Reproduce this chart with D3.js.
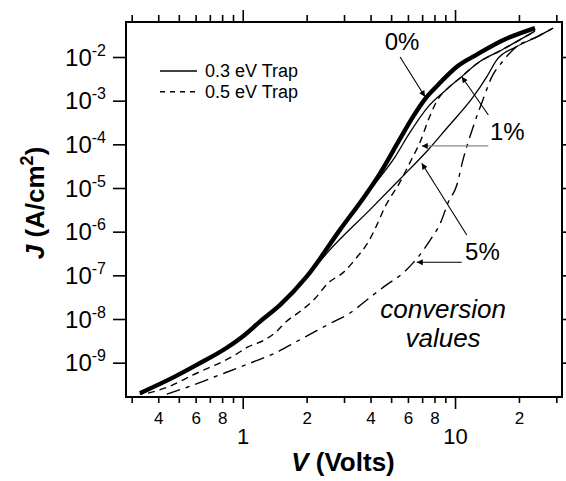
<!DOCTYPE html>
<html>
<head>
<meta charset="utf-8">
<script src="https://cdnjs.cloudflare.com/ajax/libs/d3/7.8.5/d3.min.js"></script>
<style>
  body { margin: 0; background: #fff; }
  svg { font-family: "Liberation Sans", Arial, sans-serif; }
</style>
</head>
<body>
<svg id="chart" width="566" height="481"></svg>
<script>
// J-V curves (V in volts, J in A/cm^2)

// 0% conversion (thick line)
var volts0 = [0.328, 0.471, 0.607, 0.841, 1.007, 1.205, 1.50, 2.00, 2.87, 3.84, 4.44, 5.41, 6.30, 7.22, 8.22, 10.2, 12.6, 16.9, 23.8];
var curr0 = [2.0e-10, 4.6e-10, 8.9e-10, 2.2e-9, 4.1e-9, 8.7e-9, 2.1e-8, 9.3e-8, 1.1e-6, 7.6e-6, 2.2e-5, 1.15e-4, 4.1e-4, 1.09e-3, 2.17e-3, 6.0e-3, 1.12e-2, 2.45e-2, 4.6e-2];

// 0.3 eV trap, 1%
var volts03a = [0.328, 0.471, 0.607, 0.841, 1.007, 1.205, 1.50, 2.00, 3.04, 4.15, 5.21, 6.07, 7.46, 9.06, 10.7, 12.8, 16.6, 23.8];
var curr03a = [1.9e-10, 4.4e-10, 8.6e-10, 2.1e-9, 4.0e-9, 8.5e-9, 2.0e-8, 9.0e-8, 1.67e-6, 1.17e-5, 5.1e-5, 1.73e-4, 7.2e-4, 1.75e-3, 3.5e-3, 7.3e-3, 1.45e-2, 3.9e-2];

// 0.3 eV trap, 5%
var volts03b = [0.328, 0.471, 0.607, 0.841, 1.007, 1.205, 1.50, 2.00, 2.53, 3.98, 5.51, 7.46, 9.16, 12.2, 14.1, 15.7, 19.5, 24.3, 29.0];
var curr03b = [1.9e-10, 4.4e-10, 8.6e-10, 2.1e-9, 4.0e-9, 8.5e-9, 2.0e-8, 9.0e-8, 3.5e-7, 3.2e-6, 1.61e-5, 7.4e-5, 2.37e-4, 1.23e-3, 3.5e-3, 8.5e-3, 1.73e-2, 2.9e-2, 4.6e-2];

// 0.5 eV trap, 1%
var volts05a = [0.358, 0.447, 0.581, 0.920, 1.06, 1.25, 1.44, 1.60, 1.86, 2.19, 2.52, 2.98, 3.45, 3.91, 4.28, 4.68, 5.51, 6.25, 6.84, 7.55, 8.34, 9.06, 10.7, 12.8, 16.6, 23.8];
var curr05a = [2.0e-10, 2.8e-10, 5.2e-10, 1.5e-9, 2.3e-9, 3.2e-9, 5.1e-9, 8.7e-9, 1.48e-8, 2.95e-8, 6.6e-8, 1.17e-7, 2.6e-7, 5.9e-7, 1.41e-6, 3.7e-6, 1.38e-5, 4.6e-5, 1.12e-4, 4.0e-4, 1.12e-3, 1.75e-3, 3.5e-3, 7.3e-3, 1.45e-2, 3.9e-2];

// 0.5 eV trap, 5%
var volts05b = [0.439, 0.618, 0.733, 0.937, 1.18, 1.42, 1.76, 2.23, 2.58, 3.14, 3.94, 4.63, 5.71, 6.77, 7.55, 8.59, 9.27, 10.2, 10.9, 12.1, 13.6, 14.9, 16.6, 19.5, 24.3, 29.0];
var curr05b = [1.9e-10, 3.4e-10, 4.7e-10, 7.4e-10, 1.15e-9, 1.66e-9, 2.9e-9, 5.4e-9, 7.9e-9, 1.29e-8, 3.0e-8, 5.5e-8, 1.15e-7, 2.8e-7, 5.9e-7, 1.7e-6, 4.6e-6, 1.17e-5, 4.4e-5, 2.3e-4, 1.12e-3, 3.5e-3, 7.5e-3, 1.73e-2, 2.9e-2, 4.6e-2];

// ticks
var xMajorTicks = [1, 10];
var xMinorTicks = [0.3, 0.4, 0.5, 0.6, 0.7, 0.8, 0.9, 2, 3, 4, 5, 6, 7, 8, 9, 20, 30];
var xMinorLabelled = [0.4, 0.6, 0.8, 2, 4, 6, 8, 20];
var yDecades = [-9, -8, -7, -6, -5, -4, -3, -2];

var legendNames = ["0.3 eV Trap", "0.5 eV Trap"];

var svg = d3.select("#chart"),
    plotLeft = 126, plotRight = 562, plotTop = 22, plotBottom = 397;

var x = d3.scaleLog()
    .domain([0.282, 31.9])
    .range([plotLeft, plotRight]);

var y = d3.scaleLog()
    .domain([Math.pow(10, -9.786), Math.pow(10, -1.1985)])
    .range([plotBottom, plotTop]);

function pairs(vs, js) {
  return vs.map(function(v, i) { return [v, js[i]]; });
}

var series = [
  {pts: pairs(volts05b, curr05b), width: 1.4, dash: "14,6,4,6"},
  {pts: pairs(volts05a, curr05a), width: 1.4, dash: "7,5"},
  {pts: pairs(volts03b, curr03b), width: 1.3, dash: null},
  {pts: pairs(volts03a, curr03a), width: 1.3, dash: null},
  {pts: pairs(volts0, curr0), width: 4.4, dash: null}
];

var defs = svg.append("defs");
defs.append("clipPath").attr("id", "plotClip")
  .append("rect")
    .attr("x", plotLeft).attr("y", plotTop)
    .attr("width", plotRight - plotLeft).attr("height", plotBottom - plotTop);

var marker = defs.append("marker")
    .attr("id", "head")
    .attr("viewBox", "0 0 10 10")
    .attr("refX", 10).attr("refY", 5)
    .attr("markerWidth", 10).attr("markerHeight", 6)
    .attr("markerUnits", "userSpaceOnUse")
    .attr("orient", "auto");
marker.append("path").attr("d", "M0,0L10,5L0,10z").attr("fill", "#000");

var line = d3.line()
    .x(function(d) { return x(d[0]); })
    .y(function(d) { return y(d[1]); })
    .curve(d3.curveMonotoneX);

svg.append("g")
    .attr("clip-path", "url(#plotClip)")
  .selectAll("path")
  .data(series)
  .enter().append("path")
    .attr("d", function(d) { return line(d.pts); })
    .attr("fill", "none")
    .attr("stroke", "#000")
    .attr("stroke-width", function(d) { return d.width; })
    .attr("stroke-dasharray", function(d) { return d.dash; })
    .attr("stroke-linejoin", "round");

// axes
function firstDigit(d) {
  return String(Math.round(d / Math.pow(10, Math.floor(Math.log10(d) + 1e-9))));
}

function styleAxis(g) {
  g.select(".domain").remove();
  g.selectAll("line").attr("stroke", "#000").attr("stroke-width", 1.6);
  g.attr("font-family", null);
}

svg.append("g")
    .attr("transform", "translate(0," + plotBottom + ")")
    .call(d3.axisBottom(x).tickValues(xMinorTicks).tickSize(6).tickPadding(9)
      .tickFormat(function(d) { return xMinorLabelled.indexOf(d) >= 0 ? firstDigit(d) : ""; }))
    .call(styleAxis)
    .selectAll("text").attr("font-size", 17).attr("fill", "#000");

svg.append("g")
    .attr("transform", "translate(0," + plotBottom + ")")
    .call(d3.axisBottom(x).tickValues(xMajorTicks).tickSize(12).tickPadding(19)
      .tickFormat(function(d) { return String(d); }))
    .call(styleAxis)
    .selectAll("text").attr("font-size", 22).attr("fill", "#000");

svg.append("g")
    .attr("transform", "translate(0," + plotTop + ")")
    .call(d3.axisTop(x).tickValues(xMinorTicks).tickSize(7).tickFormat(""))
    .call(styleAxis);

svg.append("g")
    .attr("transform", "translate(0," + plotTop + ")")
    .call(d3.axisTop(x).tickValues(xMajorTicks).tickSize(12).tickFormat(""))
    .call(styleAxis);

var yTickVals = yDecades.map(function(e) { return Math.pow(10, e); });

svg.append("g")
    .attr("transform", "translate(" + plotLeft + ",0)")
    .call(d3.axisLeft(y).tickValues(yTickVals).tickSize(13).tickFormat(""))
    .call(styleAxis);

svg.append("g")
    .attr("transform", "translate(" + plotRight + ",0)")
    .call(d3.axisRight(y).tickValues(yTickVals).tickSize(13).tickFormat(""))
    .call(styleAxis);

var yLab = svg.append("g").selectAll("text")
  .data(yDecades)
  .enter().append("text")
    .attr("x", 106)
    .attr("y", function(d) { return y(Math.pow(10, d)) + 8.7; })
    .attr("text-anchor", "end")
    .attr("font-size", 24);
yLab.append("tspan").text("10");
yLab.append("tspan")
    .attr("font-size", 16)
    .attr("dy", -10)
    .text(function(d) { return "-" + Math.abs(d); });

// frame
svg.append("rect")
    .attr("x", plotLeft).attr("y", plotTop)
    .attr("width", plotRight - plotLeft).attr("height", plotBottom - plotTop)
    .attr("fill", "none")
    .attr("stroke", "#000")
    .attr("stroke-width", 2);

// axis titles
var xt = svg.append("text")
    .attr("x", 343).attr("y", 471)
    .attr("text-anchor", "middle")
    .attr("font-size", 26)
    .attr("font-weight", "bold");
xt.append("tspan").attr("font-style", "italic").text("V");
xt.append("tspan").text(" (Volts)");

var yt = svg.append("text")
    .attr("transform", "translate(44,203) rotate(-90)")
    .attr("text-anchor", "middle")
    .attr("font-size", 26)
    .attr("font-weight", "bold");
yt.append("tspan").attr("font-style", "italic").text("J");
yt.append("tspan").text(" (A/cm");
yt.append("tspan").attr("font-size", 18).attr("dy", -11).text("2");
yt.append("tspan").attr("dy", 11).text(")");

// legend
var legend = svg.append("g").selectAll("g")
  .data(legendNames)
  .enter().append("g")
    .attr("transform", function(d, i) { return "translate(0," + (71 + i * 20.7) + ")"; });

legend.append("line")
    .attr("x1", 160).attr("x2", 197)
    .attr("stroke", "#000")
    .attr("stroke-width", 1.5)
    .attr("stroke-dasharray", function(d, i) { return i ? "5,5" : null; });

legend.append("text")
    .attr("x", 205).attr("y", 6)
    .attr("font-size", 18)
    .text(function(d) { return d; });

// annotations (positions in data units)
var arrowFrom = [[5.51, 1.0e-2], [14.35, 4.7e-4], [14.35, 9.2e-5], [11.36, 8.4e-7], [10.76, 1.99e-7]];
var arrowTo = [[7.22, 1.23e-3], [10.76, 3.54e-3], [6.97, 9.2e-5], [6.97, 3.68e-5], [6.60, 1.99e-7]];
var arrowColor = ["#000", "#000", "#888", "#000", "#000"];

svg.append("g").selectAll("line")
  .data(arrowFrom)
  .enter().append("line")
    .attr("x1", function(d) { return x(d[0]); })
    .attr("y1", function(d) { return y(d[1]); })
    .attr("x2", function(d, i) { return x(arrowTo[i][0]); })
    .attr("y2", function(d, i) { return y(arrowTo[i][1]); })
    .attr("stroke", function(d, i) { return arrowColor[i]; })
    .attr("stroke-width", 1.1)
    .attr("marker-end", "url(#head)");

var noteText = ["0%", "1%", "5%"];
var notePos = [[5.63, 1.45e-2], [14.6, 1.26e-4], [11.15, 2.25e-7]];
var noteAnchor = ["middle", "start", "start"];

svg.append("g").selectAll("text")
  .data(noteText)
  .enter().append("text")
    .attr("x", function(d, i) { return x(notePos[i][0]); })
    .attr("y", function(d, i) { return y(notePos[i][1]); })
    .attr("text-anchor", function(d, i) { return noteAnchor[i]; })
    .attr("font-size", 24)
    .text(function(d) { return d; });

var convText = ["conversion", "values"];
var convPos = [[8.78, 1.05e-8], [8.78, 2.32e-9]];

svg.append("g").selectAll("text")
  .data(convText)
  .enter().append("text")
    .attr("x", function(d, i) { return x(convPos[i][0]); })
    .attr("y", function(d, i) { return y(convPos[i][1]); })
    .attr("text-anchor", "middle")
    .attr("font-size", 26)
    .attr("font-style", "italic")
    .text(function(d) { return d; });
</script>
</body>
</html>
